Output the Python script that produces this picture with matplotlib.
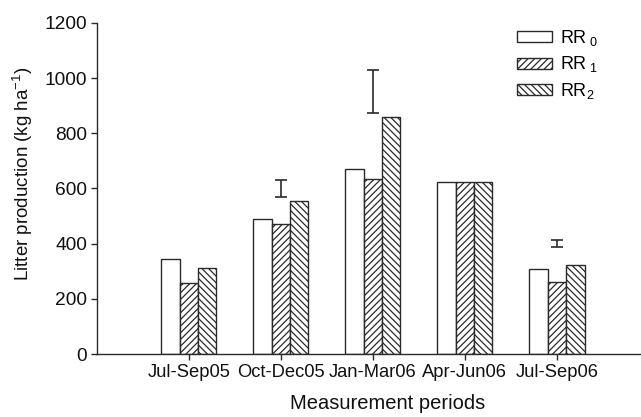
import numpy as np
import matplotlib
matplotlib.use("Agg")
import matplotlib.pyplot as plt

plt.rcParams['font.family'] = ['Liberation Sans', 'DejaVu Sans']
plt.rcParams['mathtext.fontset'] = 'custom'
plt.rcParams['mathtext.rm'] = 'Liberation Sans'
plt.rcParams['mathtext.default'] = 'regular'
plt.rcParams['hatch.linewidth'] = 0.9

# Donnees
periodes = ['Jul-Sep05', 'Oct-Dec05', 'Jan-Mar06', 'Apr-Jun06', 'Jul-Sep06']
rr0 = [344, 488, 672, 622, 308]
rr1 = [258, 471, 633, 624, 260]
rr2 = [313, 554, 860, 624, 322]

# Barres d'erreur (bas, haut) placees au centre du groupe
err_bas = [None, 570, 874, None, 387]
err_haut = [None, 630, 1028, None, 413]

series = [rr0, rr1, rr2]
noms = [r'RR$\,_0$', r'RR$\,_1$', 'RR$_2$']
hachures = ['', '/////', '\\\\\\\\\\']

couleur_trait = '#2a2a2a'
largeur = 0.2

fig = plt.figure(figsize=(6.41, 4.17), dpi=100)
ax = fig.add_axes([0.151, 0.151, 0.847, 0.794])

x = np.arange(len(periodes))
for i, (vals, nom, h) in enumerate(zip(series, noms, hachures)):
    ax.bar(x + (i - 1) * largeur, vals, width=largeur, facecolor='white',
           edgecolor=couleur_trait, hatch=h, linewidth=1.0, label=nom)

for j in range(len(periodes)):
    if err_bas[j] is None:
        continue
    centre = (err_bas[j] + err_haut[j]) / 2
    demi = (err_haut[j] - err_bas[j]) / 2
    ax.errorbar(x[j], centre, yerr=demi, fmt='none', ecolor=couleur_trait,
                elinewidth=1.2, capsize=4, capthick=1.2)

ax.set_xlim(-1, 4.9)
ax.set_ylim(0, 1200)
ax.set_yticks(range(0, 1201, 200))
ax.set_xticks(x)
ax.set_xticklabels(periodes)

for s in ['top', 'right']:
    ax.spines[s].set_visible(False)
for s in ['left', 'bottom']:
    ax.spines[s].set_color(couleur_trait)
    ax.spines[s].set_linewidth(1.0)

ax.tick_params(axis='both', colors=couleur_trait, labelcolor='#111111',
               length=4, width=1.0, pad=3)
ax.tick_params(axis='y', labelsize=13.8)
ax.tick_params(axis='x', labelsize=13.2)

ax.set_ylabel('Litter production (kg ha$^{-1}$)', fontsize=13.5, color='#111111')
ax.yaxis.set_label_coords(-0.113, 0.545)
ax.set_xlabel('Measurement periods', fontsize=14.5, color='#111111')
ax.xaxis.set_label_coords(0.535, -0.12)

ax.legend(loc='upper left', bbox_to_anchor=(0.7925, 0.955), bbox_transform=fig.transFigure,
          frameon=False, fontsize=13, handlelength=1.95, handleheight=0.55,
          handletextpad=0.45, labelspacing=0.37, borderpad=0)

fig.savefig('out.png', dpi=100)
